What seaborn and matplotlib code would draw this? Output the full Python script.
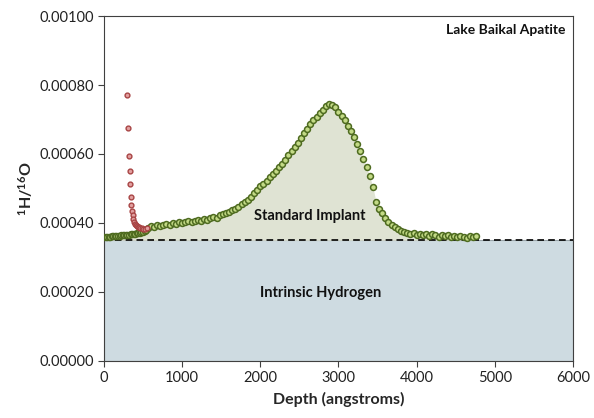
import numpy as np
import pandas as pd
import seaborn as sns
import matplotlib.pyplot as plt

# green series: standard implant profile (depth in angstroms, H/O ratio x1e-4)
implant_depth = [0, 20, 40, 60, 80, 100, 120, 140, 160, 180, 200, 220, 240, 260,
                 280, 300, 320, 340, 360, 380, 400, 420, 440, 460, 480, 500, 520, 540,
                 560, 600, 640, 680, 720, 760, 800, 840, 880, 920, 960, 1000, 1040,
                 1080, 1120, 1160, 1200, 1240, 1280, 1320, 1360, 1400, 1440, 1480,
                 1520, 1560, 1600, 1640, 1680, 1720, 1760, 1800, 1840, 1880, 1920,
                 1960, 2000, 2040, 2080, 2120, 2160, 2200, 2240, 2280, 2320, 2360,
                 2400, 2440, 2480, 2520, 2560, 2600, 2640, 2680, 2720, 2760, 2800,
                 2840, 2880, 2920, 2960, 3000, 3040, 3080, 3120, 3160, 3200, 3240,
                 3280, 3320, 3360, 3400, 3440, 3480, 3520, 3560, 3600, 3640, 3680,
                 3720, 3760, 3800, 3840, 3880, 3920, 3960, 4000, 4040, 4080, 4120,
                 4160, 4200, 4240, 4280, 4320, 4360, 4400, 4440, 4480, 4520, 4560,
                 4600, 4640, 4680, 4720, 4760]
implant_ratio = [3.58, 3.59, 3.59, 3.60, 3.60, 3.61, 3.61, 3.62, 3.62, 3.63, 3.63,
                 3.64, 3.64, 3.65, 3.65, 3.66, 3.66, 3.67, 3.68, 3.68, 3.69, 3.70,
                 3.71, 3.72, 3.73, 3.75, 3.77, 3.80,
                 3.86, 3.90, 3.88, 3.93, 3.91, 3.95, 3.97, 3.94, 4.00, 3.98, 4.02,
                 4.00, 4.03, 4.05, 4.02, 4.07, 4.09, 4.06, 4.12, 4.10, 4.15, 4.18,
                 4.15, 4.22, 4.25, 4.28, 4.33, 4.37, 4.42, 4.47, 4.55, 4.60, 4.66,
                 4.74, 4.86, 4.95, 5.07, 5.14, 5.22, 5.32, 5.41, 5.52, 5.63, 5.72,
                 5.84, 5.96, 6.08, 6.20, 6.33, 6.45, 6.60, 6.72, 6.86, 6.98, 7.08,
                 7.18, 7.28, 7.38, 7.44, 7.43, 7.36, 7.22, 7.10, 6.98, 6.82, 6.68,
                 6.50, 6.30, 6.10, 5.85, 5.62, 5.35, 5.05, 4.62, 4.40, 4.28, 4.15,
                 4.04, 3.95, 3.88, 3.82, 3.76, 3.73, 3.70, 3.68, 3.72, 3.66, 3.69,
                 3.64, 3.67, 3.62, 3.68, 3.64, 3.60, 3.66, 3.62, 3.65, 3.60, 3.63,
                 3.58, 3.62, 3.60, 3.57, 3.61, 3.59, 3.63]

# red series: surface contamination near the top
surface_depth = [290, 303, 316, 329, 337, 345, 352, 360, 368, 376, 385, 395, 405,
                 418, 432, 448, 465, 485, 505, 525, 545]
surface_ratio = [7.70, 6.75, 5.95, 5.50, 5.13, 4.75, 4.52, 4.36, 4.22, 4.12, 4.03,
                 3.98, 3.94, 3.91, 3.89, 3.87, 3.86, 3.85, 3.84, 3.84, 3.85]

intrinsic_level = 0.00035
x_ticks = [0, 1000, 2000, 3000, 4000, 5000, 6000]
y_ticks = [0.0, 0.0002, 0.0004, 0.0006, 0.0008, 0.0010]

implant = pd.DataFrame({'depth': implant_depth,
                        'ratio': np.array(implant_ratio) * 1e-4})
surface = pd.DataFrame({'depth': surface_depth,
                        'ratio': np.array(surface_ratio) * 1e-4})

sns.set_style('white')
plt.rcParams['font.family'] = ['Lato', 'DejaVu Sans']
plt.rcParams['mathtext.fontset'] = 'custom'
plt.rcParams['mathtext.bf'] = 'Lato:bold'
plt.rcParams['mathtext.rm'] = 'Lato'

fig = plt.figure(figsize=(5.94, 4.18), dpi=100)
ax = fig.add_axes([0.175, 0.1364, 0.7896, 0.8253])

# shaded regions
ax.fill_between([0, 6000], 0, intrinsic_level, color='#cedbe1',
                edgecolor='#9aa5aa', linewidth=0.8, zorder=1)
ax.fill_between(implant['depth'], intrinsic_level,
                np.maximum(implant['ratio'], intrinsic_level),
                color='#dfe3d3', linewidth=0, zorder=1)
ax.axhline(intrinsic_level, color='black', linestyle=(0, (4, 2.5)),
           linewidth=1.2, zorder=2)

sns.scatterplot(data=implant, x='depth', y='ratio', ax=ax, marker='o', s=18,
                color='#c3da86', edgecolor='#4e6b20', linewidth=1.1, zorder=3)
sns.scatterplot(data=surface, x='depth', y='ratio', ax=ax, marker='o', s=12,
                color='#e2a0a0', edgecolor='#a84444', linewidth=1.0, zorder=3)

ax.set_xlim(0, 6000)
ax.set_ylim(0, 0.001)
ax.set_xticks(x_ticks)
ax.set_yticks(y_ticks)
ax.set_yticklabels([f'{v:.5f}' for v in y_ticks])
ax.tick_params(axis='both', direction='out', length=4, width=0.8,
               labelsize=10.5, color='#404040', labelcolor='#222222',
               bottom=True, left=True)
for side in ['top', 'right', 'bottom', 'left']:
    ax.spines[side].set_color('#404040')
    ax.spines[side].set_linewidth(0.8)

ax.set_xlabel('Depth (angstroms)', fontsize=11.5, fontweight='bold', labelpad=5)
ax.set_ylabel(r'$\mathbf{^{1}H/^{16}O}$', fontsize=11.5, labelpad=3)

ax.text(5900, 0.00096, 'Lake Baikal Apatite', ha='right', va='center',
        fontsize=10, fontweight='bold', color='#111111')
ax.text(2630, 0.00042, 'Standard Implant', ha='center', va='center',
        fontsize=10.5, fontweight='bold', color='#111111', zorder=4)
ax.text(2770, 0.000198, 'Intrinsic Hydrogen', ha='center', va='center',
        fontsize=10.5, fontweight='bold', color='#111111', zorder=4)

fig.savefig('out.png', dpi=100)
